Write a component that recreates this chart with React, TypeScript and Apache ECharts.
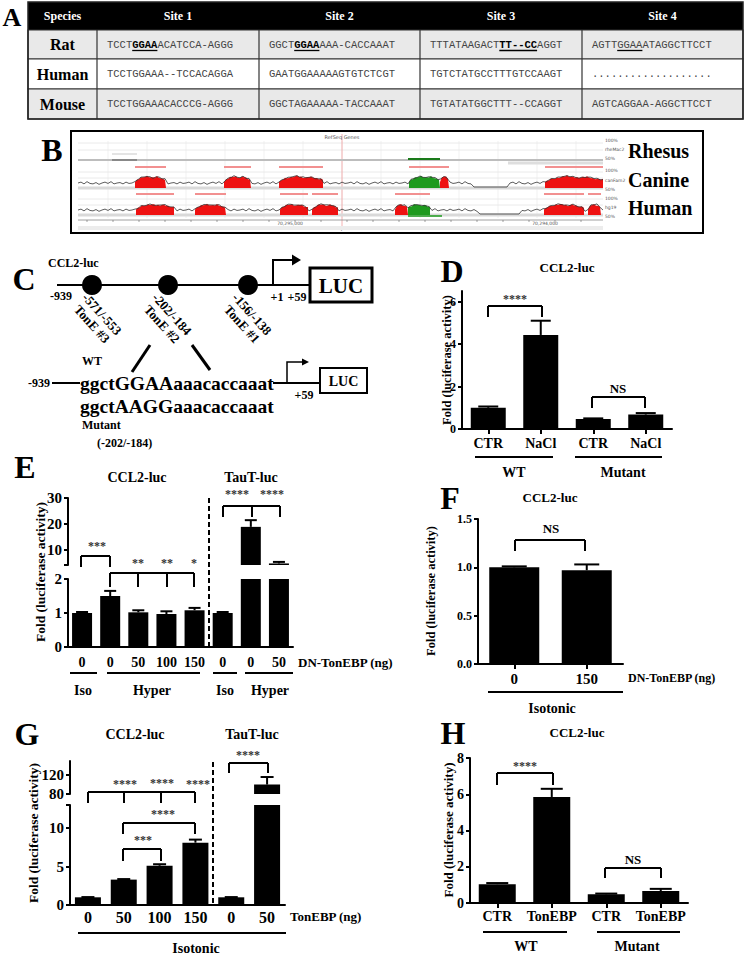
import React, { useEffect, useRef } from "react";
import * as echarts from "echarts";

const SERIF = '"Liberation Serif", "Times New Roman", serif';
const MONO = '"Liberation Mono", "Courier New", monospace';
const SANS = '"DejaVu Sans", "Liberation Sans", sans-serif';

// ---------- Panel A data ----------
const tableHeaders = ["Species", "Site 1", "Site 2", "Site 3", "Site 4"];
const speciesNames = ["Rat", "Human", "Mouse"];
const ratSequences = ["TCCTGGAAACATCCA-AGGG", "GGCTGGAAAAA-CACCAAAT", "TTTATAAGACTTT--CCAGGT", "AGTTGGAAATAGGCTTCCT"];
const humanSequences = ["TCCTGGAAA--TCCACAGGA", "GAATGGAAAAAGTGTCTCGT", "TGTCTATGCCTTTGTCCAAGT", "..................."];
const mouseSequences = ["TCCTGGAAACACCCG-AGGG", "GGCTAGAAAAA-TACCAAAT", "TGTATATGGCTTT--CCAGGT", "AGTCAGGAA-AGGCTTCCT"];
const ratMotifs: [number, number, boolean][] = [[4, 8, true], [4, 8, true], [11, 17, true], [4, 8, false]];

// ---------- Panel B labels ----------
const speciesTracks = ["Rhesus", "Canine", "Human"];
const trackDbNames = ["rheMac2", "canFam2", "hg19"];

// ---------- Panel D ----------
const dCategories = ["CTR", "NaCl", "CTR", "NaCl"];
const dValues = [1.0, 4.43, 0.47, 0.68];
const dErrTop = [1.06, 5.1, 0.5, 0.75];
const dTicks = [0, 2, 4, 6];

// ---------- Panel E ----------
const eCategories = ["0", "0", "50", "100", "150", "0", "0", "50"];
const eValues = [1.0, 1.5, 1.02, 0.97, 1.08, 1.0, 18.8, 4.6];
const eErrTop = [1.03, 1.65, 1.08, 1.05, 1.15, 1.03, 21.4, 5.2];
const eUpperTicks = [10, 20, 30];
const eLowerTicks = [0, 1, 2];

// ---------- Panel F ----------
const fCategories = ["0", "150"];
const fValues = [1.0, 0.97];
const fErrTop = [1.01, 1.03];
const fTicks = [0, 0.5, 1.0, 1.5];

// ---------- Panel G ----------
const gCategories = ["0", "50", "100", "150", "0", "50"];
const gValues = [1.0, 3.3, 5.1, 8.1, 1.0, 100];
const gErrTop = [1.03, 3.37, 5.3, 8.5, 1.03, 116];
const gUpperTicks = [80, 120];
const gLowerTicks = [0, 5, 10];

// ---------- Panel H ----------
const hCategories = ["CTR", "TonEBP", "CTR", "TonEBP"];
const hValues = [1.04, 5.85, 0.48, 0.66];
const hErrTop = [1.1, 6.3, 0.52, 0.78];
const hTicks = [0, 2, 4, 6, 8];

// ---------- helpers ----------
const txt = (x: number, y: number, text: string, size: number, o: any = {}) => ({
  type: "text",
  x,
  y,
  rotation: o.rot || 0,
  silent: true,
  style: {
    text,
    fontFamily: o.family || SERIF,
    fontWeight: o.weight || "bold",
    fontSize: size,
    fill: o.fill || "#000",
    align: o.align || "center",
    verticalAlign: o.va || "middle",
    rich: o.rich,
  },
});
const ln = (x1: number, y1: number, x2: number, y2: number, w = 2, color = "#000", dash?: number[]) => ({
  type: "line",
  silent: true,
  shape: { x1, y1, x2, y2 },
  style: { stroke: color, lineWidth: w, lineDash: dash },
});
const bracket = (xs: number[], yTop: number, yBot: number) => {
  const els: any[] = [ln(Math.min(...xs), yTop, Math.max(...xs), yTop)];
  xs.forEach((x) => els.push(ln(x, yTop, x, yBot)));
  return els;
};
const star = (x: number, y: number, s: string) => txt(x, y, s, 12, { fill: "#333" });

// ---------- Panel A graphic ----------
function panelA(): any[] {
  const els: any[] = [];
  const colX = [28, 97, 259, 420, 582, 743];
  const rowY = [2, 30, 59, 89, 119];
  els.push(txt(12, 17, "A", 26));
  els.push({ type: "rect", silent: true, shape: { x: colX[0], y: rowY[0], width: colX[5] - colX[0], height: rowY[1] - rowY[0] }, style: { fill: "#000" } });
  const fills = ["#e9e9e9", "#ffffff", "#e9e9e9"];
  for (let r = 0; r < 3; r++) {
    els.push({ type: "rect", silent: true, shape: { x: colX[0], y: rowY[r + 1], width: colX[5] - colX[0], height: rowY[r + 2] - rowY[r + 1] }, style: { fill: fills[r], stroke: "#333", lineWidth: 1.2 } });
  }
  for (let c = 1; c < 5; c++) els.push(ln(colX[c], rowY[1], colX[c], rowY[4], 1.2, "#333"));
  els.push({ type: "rect", silent: true, shape: { x: colX[0], y: rowY[0], width: colX[5] - colX[0], height: rowY[4] - rowY[0] }, style: { fill: "none", stroke: "#222", lineWidth: 1.5 } });
  tableHeaders.forEach((h, c) => els.push(txt((colX[c] + colX[c + 1]) / 2, (rowY[0] + rowY[1]) / 2, h, 12, { fill: "#fff" })));
  const seqRows = [ratSequences, humanSequences, mouseSequences];
  const fs = 10.5;
  const cw = fs * 0.6;
  speciesNames.forEach((name, r) => {
    const cy = (rowY[r + 1] + rowY[r + 2]) / 2;
    els.push(txt((colX[0] + colX[1]) / 2, cy, name, 16));
    seqRows[r].forEach((seq, c) => {
      const x0 = colX[c + 1] + 10;
      let rt = `{n|${seq}}`;
      if (r === 0) {
        const [s, e, b] = ratMotifs[c];
        rt = `{n|${seq.slice(0, s)}}{${b ? "b" : "n"}|${seq.slice(s, e)}}{n|${seq.slice(e)}}`;
        els.push(ln(x0 + s * cw, cy + 6, x0 + e * cw, cy + 6, 1.3, "#000"));
      }
      els.push(
        txt(x0, cy, rt, fs, {
          align: "left",
          family: MONO,
          weight: "normal",
          fill: "#444",
          rich: {
            n: { fontFamily: MONO, fontSize: fs, fill: "#444", fontWeight: "normal" },
            b: { fontFamily: MONO, fontSize: fs, fill: "#000", fontWeight: "bold" },
          },
        })
      );
    });
  });
  return els;
}

// ---------- Panel B graphic ----------
const wig = [0, -1, 1, -1.5, 0.5, 1, -0.5, 1.5, 0, -1, 0.5, -1.5, 1, 0, -0.5, 1, -1, 0.5];
const hump = [0.5, 0.75, 0.85, 0.95, 1, 0.9, 0.85, 0.95, 0.85, 0.75, 0.7];

function trackEls(yb: number, level: number, amp: number, red: number[][], green: number[][], flats: number[][], L: number, R: number) {
  const els: any[] = [];
  const blocks = [...red.map((b) => [b[0], b[1], 0]), ...green.map((b) => [b[0], b[1], 1])];
  const hAt = (b: number[], x: number) => {
    const t = (x - b[0]) / (b[1] - b[0]);
    const p = t * (hump.length - 1);
    const i = Math.min(hump.length - 2, Math.floor(p));
    const f = p - i;
    return hump[i] * (1 - f) + hump[i + 1] * f;
  };
  const yAt = (x: number, k: number) => {
    const b = blocks.find((bb) => x >= bb[0] && x <= bb[1]);
    if (b) return yb - amp * hAt(b, x) + wig[k % wig.length] * 0.5;
    if (flats.some((f) => x >= f[0] && x <= f[1])) return yb - 1;
    return level + wig[k % wig.length] * 0.9;
  };
  els.push(ln(L, yb, R, yb, 3, "#d9d9d9"));
  blocks.forEach((b) => {
    const pts: number[][] = [];
    let k = 0;
    for (let x = b[0]; x <= b[1]; x += 2) pts.push([x, yAt(x, k++)]);
    pts.push([b[1], yb], [b[0], yb]);
    els.push({ type: "polygon", silent: true, shape: { points: pts }, style: { fill: b[2] ? "#1e9a1e" : "#ee1111" } });
  });
  const line: number[][] = [];
  let k = 0;
  for (let x = L; x <= R; x += 3) line.push([x, yAt(x, k++)]);
  els.push({ type: "polyline", silent: true, shape: { points: line }, style: { stroke: "#333", lineWidth: 0.8, fill: "none" } });
  return els;
}

function panelB(): any[] {
  const els: any[] = [];
  const bx0 = 71, by0 = 131, bx1 = 703, by1 = 233;
  const L = 78, R = 603;
  els.push(txt(52, 150, "B", 32));
  els.push({ type: "rect", silent: true, shape: { x: bx0, y: by0, width: bx1 - bx0, height: by1 - by0 }, style: { fill: "#fff", stroke: "#000", lineWidth: 2 } });
  for (let x = L + 30; x < R; x += 39) els.push(ln(x, 141, x, 218, 0.8, "#ededed"));
  [143, 150, 172, 178, 199, 205].forEach((y) => els.push(ln(L, y, R, y, 0.8, "#e4e4e4")));
  els.push(ln(342, 134, 342, 230, 0.8, "#f2a0a0"));
  els.push(txt(342, 137, "RefSeq Genes", 5, { weight: "normal", family: SANS, fill: "#555" }));
  els.push(txt(342, 228, "RefSeq Genes", 5, { weight: "normal", family: SANS, fill: "#555" }));
  els.push(ln(L, 228, R, 228, 4, "#ececec"));
  // rhesus
  els.push(ln(L, 160, R, 160, 2, "#bdbdbd"));
  els.push(ln(112, 160, 137, 160, 1.5, "#777"));
  els.push(ln(112, 154, 137, 154, 0.8, "#bbb"));
  els.push(ln(508, 163, R, 163, 3, "#dedede"));
  els.push(ln(408, 159, 440, 159, 2, "#1a7a1a"));
  [[135, 166], [224, 251], [279, 323], [409, 449], [545, 603]].forEach((s) => els.push(ln(s[0], 167, s[1], 167, 2, "#f29090")));
  // canine
  els.push(...trackEls(188, 183, 12, [[135, 166], [224, 251], [279, 323], [440, 449], [545, 603]], [[409, 440]], [[473, 508]], L, R));
  [[136, 174], [195, 226], [280, 308], [312, 338], [395, 430], [544, 584], [588, 601]].forEach((s) => els.push(ln(s[0], 194, s[1], 194, 2, "#f29090")));
  // human
  els.push(...trackEls(215, 210, 11, [[136, 174], [195, 226], [280, 308], [312, 338], [395, 408], [544, 584], [588, 601]], [[408, 430]], [[478, 520]], L, R));
  els.push(ln(408, 216, 442, 216, 1.5, "#1a9a1a"));
  // axis
  els.push(ln(L, 220, R, 220, 0.8, "#888"));
  for (let x = L + 9; x < R; x += 26) els.push(ln(x, 220, x, 222, 0.6, "#666"));
  els.push(txt(290, 223, "70,295,000", 4.5, { weight: "normal", family: SANS, fill: "#555" }));
  els.push(txt(545, 223, "70,294,000", 4.5, { weight: "normal", family: SANS, fill: "#555" }));
  const ys = [[140, 149, 158], [170, 180, 189], [198, 207, 216]];
  ys.forEach((yy, i) => {
    els.push(txt(605, yy[0], "100%", 4.5, { weight: "normal", family: SANS, fill: "#555", align: "left" }));
    els.push(txt(605, yy[1], trackDbNames[i], 4.5, { weight: "normal", family: SANS, fill: "#555", align: "left" }));
    els.push(txt(605, yy[2], "50%", 4.5, { weight: "normal", family: SANS, fill: "#555", align: "left" }));
  });
  const ly = [151, 180, 208];
  speciesTracks.forEach((s, i) => els.push(txt(628, ly[i], s, 20, { align: "left" })));
  return els;
}

// ---------- Panel C graphic ----------
function panelC(): any[] {
  const els: any[] = [];
  els.push(txt(24, 279, "C", 32));
  els.push(txt(48, 263, "CCL2-luc", 12, { align: "left" }));
  els.push(ln(57, 285, 309, 285, 2));
  [92, 168, 248].forEach((x) => els.push({ type: "circle", silent: true, shape: { cx: x, cy: 285, r: 10 }, style: { fill: "#000" } }));
  els.push(txt(72, 296, "-939", 12, { align: "right" }));
  els.push({ type: "polyline", silent: true, shape: { points: [[273, 285], [273, 260], [293, 260]] }, style: { stroke: "#000", lineWidth: 2, fill: "none" } });
  els.push({ type: "polygon", silent: true, shape: { points: [[292, 254.5], [301, 260], [292, 265.5]] }, style: { fill: "#000" } });
  els.push(txt(277, 297, "+1", 12));
  els.push(txt(297, 297, "+59", 12));
  els.push({ type: "rect", silent: true, shape: { x: 310, y: 268, width: 62, height: 34 }, style: { fill: "#fff", stroke: "#000", lineWidth: 3 } });
  els.push(txt(341, 286, "LUC", 21));
  const rot = (-48 * Math.PI) / 180;
  const labs = [["-571/-553", "TonE #3", 102], ["-202/-184", "TonE #2", 172], ["-156/-138", "TonE #1", 252]];
  labs.forEach((l) => {
    const cx = l[2] as number;
    els.push(txt(cx, 314, l[0] as string, 13, { rot }));
    els.push(txt(cx - 10, 324, l[1] as string, 13, { rot }));
  });
  els.push(ln(150, 345, 132, 372, 3));
  els.push(ln(192, 345, 210, 370, 3));
  els.push(txt(82, 361, "WT", 12, { align: "left" }));
  els.push(txt(50, 383, "-939", 12, { align: "right" }));
  els.push(ln(52, 383, 80, 383, 2));
  els.push(txt(80, 383, "ggctGGAAaaacaccaaat", 19.5, { align: "left" }));
  els.push(txt(80, 406, "ggctAAGGaaacaccaaat", 19.5, { align: "left" }));
  els.push(ln(273, 383, 320, 383, 2));
  els.push({ type: "polyline", silent: true, shape: { points: [[287, 383], [287, 362], [303, 362]] }, style: { stroke: "#000", lineWidth: 1.5, fill: "none" } });
  els.push({ type: "polygon", silent: true, shape: { points: [[302, 358.5], [309, 362], [302, 365.5]] }, style: { fill: "#000" } });
  els.push({ type: "rect", silent: true, shape: { x: 320, y: 368, width: 47, height: 25 }, style: { fill: "#fff", stroke: "#000", lineWidth: 2 } });
  els.push(txt(343.5, 381, "LUC", 14));
  els.push(txt(304, 395, "+59", 12));
  els.push(txt(82, 425, "Mutant", 12, { align: "left" }));
  els.push(txt(97, 443, "(-202/-184)", 12, { align: "left" }));
  return els;
}

// ---------- chart panels annotations ----------
function annotations(): any[] {
  const els: any[] = [];
  const yTitle = "Fold (luciferase activity)";
  // D
  els.push(txt(452, 271, "D", 32));
  els.push(txt(567, 267, "CCL2-luc", 13));
  els.push(txt(447, 360, yTitle, 12.5, { rot: Math.PI / 2 }));
  els.push(...bracket([488, 542], 306, 317), star(515, 299, "****"));
  els.push(...bracket([592, 645], 397, 408), txt(618, 388, "NS", 13));
  els.push(ln(475, 457, 553, 457), ln(575, 457, 662, 457));
  els.push(txt(514, 472, "WT", 14), txt(623, 472, "Mutant", 14));
  // E
  els.push(txt(25, 467, "E", 32));
  els.push(txt(137, 477, "CCL2-luc", 14), txt(251, 477, "TauT-luc", 14));
  els.push(txt(40, 572, yTitle, 13.5, { rot: Math.PI / 2 }));
  els.push(ln(209, 498, 209, 647, 2, "#000", [5, 3]));
  els.push(...bracket([81, 110], 556, 567), star(97, 546, "***"));
  els.push(...bracket([110, 138, 167, 194], 573, 587));
  els.push(star(138, 563, "**"), star(167, 563, "**"), star(194, 563, "*"));
  els.push(...bracket([223, 252, 280], 506, 517));
  els.push(star(237, 494, "****"), star(272, 494, "****"));
  els.push(txt(298, 662, "DN-TonEBP (ng)", 13, { align: "left" }));
  els.push(ln(70, 673, 97, 673), ln(107, 673, 200, 673), ln(213, 673, 237, 673), ln(245, 673, 293, 673));
  els.push(txt(83, 690, "Iso", 14), txt(152, 690, "Hyper", 14), txt(225, 690, "Iso", 14), txt(270, 690, "Hyper", 14));
  // F
  els.push(txt(450, 498, "F", 32));
  els.push(txt(550, 497, "CCL2-luc", 13));
  els.push(txt(431, 591, yTitle, 12.5, { rot: Math.PI / 2 }));
  els.push(...bracket([515, 585], 540, 551), txt(551, 528, "NS", 13));
  els.push(txt(628, 678, "DN-TonEBP (ng)", 12, { align: "left" }));
  els.push(ln(488, 692, 623, 692));
  els.push(txt(552, 708, "Isotonic", 14));
  // G
  els.push(txt(27, 734, "G", 32));
  els.push(txt(135, 734, "CCL2-luc", 14), txt(252, 734, "TauT-luc", 14));
  els.push(txt(33, 833, yTitle, 13.5, { rot: Math.PI / 2 }));
  els.push(ln(213, 762, 213, 905, 2, "#000", [5, 3]));
  els.push(...bracket([88, 124, 161, 195], 792, 803));
  els.push(star(125, 784, "****"), star(162, 783, "****"), star(198, 784, "****"));
  els.push(...bracket([123, 195], 823, 834), star(163, 814, "****"));
  els.push(...bracket([123, 161], 849, 861), star(143, 840, "***"));
  els.push(...bracket([229, 268], 763, 773), star(248, 755, "****"));
  els.push(txt(290, 916, "TonEBP (ng)", 13, { align: "left" }));
  els.push(ln(78, 933, 286, 933));
  els.push(txt(196, 948, "Isotonic", 14));
  // H
  els.push(txt(453, 733, "H", 32));
  els.push(txt(577, 732, "CCL2-luc", 13));
  els.push(txt(448, 830, yTitle, 13, { rot: Math.PI / 2 }));
  els.push(...bracket([497, 553], 773, 785), star(525, 766, "****"));
  els.push(...bracket([605, 661], 868, 878), txt(633, 859, "NS", 13));
  els.push(ln(483, 932, 567, 932), ln(597, 932, 680, 932));
  els.push(txt(526, 946, "WT", 14), txt(637, 946, "Mutant", 14));
  return els;
}

// ---------- axes & series ----------
function xAx(gridIndex: number, data: string[], fontSize: number, margin: number, ticks: boolean, show = true) {
  return {
    type: "category",
    gridIndex,
    data,
    show,
    axisLine: { show: true, lineStyle: { color: "#000", width: 2 } },
    axisTick: { show: ticks, alignWithLabel: true, length: 5, lineStyle: { color: "#000", width: 2 } },
    axisLabel: { fontFamily: SERIF, fontWeight: "bold", fontSize, color: "#000", margin, interval: 0 },
    splitLine: { show: false },
  };
}
function yAx(gridIndex: number, min: number, max: number, tickVals: number[], labelVals: number[], fontSize: number, fmt?: (v: number) => string) {
  return {
    type: "value",
    gridIndex,
    min,
    max,
    splitLine: { show: false },
    axisLine: { show: true, lineStyle: { color: "#000", width: 2 } },
    axisTick: { show: true, length: 4, lineStyle: { color: "#000", width: 2 }, customValues: tickVals },
    axisLabel: { fontFamily: SERIF, fontWeight: "bold", fontSize, color: "#000", margin: 6, customValues: labelVals, formatter: fmt || ((v: number) => String(v)) },
  };
}
function barS(idx: number, values: number[], width: number) {
  return { type: "bar", xAxisIndex: idx, yAxisIndex: idx, data: values, barWidth: width, itemStyle: { color: "#000" }, silent: true, clip: true };
}
function errS(idx: number, values: number[], tops: number[], cap: number) {
  return {
    type: "custom",
    xAxisIndex: idx,
    yAxisIndex: idx,
    clip: true,
    silent: true,
    data: values.map((v, i) => [i, v, tops[i]]),
    encode: { x: 0, y: [1, 2] },
    renderItem: (_p: any, api: any) => {
      const i = api.value(0);
      const p1 = api.coord([i, api.value(1)]);
      const p2 = api.coord([i, api.value(2)]);
      return {
        type: "group",
        children: [
          { type: "line", shape: { x1: p1[0], y1: p1[1], x2: p2[0], y2: p2[1] }, style: { stroke: "#000", lineWidth: 2 } },
          { type: "line", shape: { x1: p2[0] - cap / 2, y1: p2[1], x2: p2[0] + cap / 2, y2: p2[1] }, style: { stroke: "#000", lineWidth: 2 } },
        ],
      };
    },
  };
}

function buildOption(): any {
  const grids = [
    { left: 462, top: 291, width: 210, height: 138 }, // D
    { left: 68, top: 498, width: 225, height: 67 }, // E upper
    { left: 68, top: 579, width: 225, height: 68 }, // E lower
    { left: 478, top: 519, width: 145, height: 145 }, // F
    { left: 70, top: 761, width: 215, height: 33 }, // G upper
    { left: 70, top: 805, width: 215, height: 100 }, // G lower
    { left: 470, top: 758, width: 218, height: 145 }, // H
  ];
  return {
    animation: false,
    backgroundColor: "#fff",
    grid: grids.map((g) => ({ ...g, containLabel: false })),
    xAxis: [
      xAx(0, dCategories, 14, 7, true),
      xAx(1, eCategories, 14, 8, false, false),
      xAx(2, eCategories, 14, 8, false),
      xAx(3, fCategories, 15, 7, true),
      xAx(4, gCategories, 16, 4, false, false),
      xAx(5, gCategories, 16, 4, false),
      xAx(6, hCategories, 14, 6, true),
    ],
    yAxis: [
      yAx(0, 0, 6.5, dTicks, dTicks, 12),
      yAx(1, 4, 30, [4, ...eUpperTicks], eUpperTicks, 15),
      yAx(2, 0, 2, eLowerTicks, eLowerTicks, 15),
      yAx(3, 0, 1.5, fTicks, fTicks, 12, (v: number) => v.toFixed(1)),
      yAx(4, 80, 150, gUpperTicks, gUpperTicks, 15),
      yAx(5, 0, 13, [...gLowerTicks, 13], gLowerTicks, 15),
      yAx(6, 0, 8, hTicks, hTicks, 14),
    ],
    series: [
      barS(0, dValues, 35), errS(0, dValues, dErrTop, 20),
      barS(1, eValues, 20), errS(1, eValues, eErrTop, 12),
      barS(2, eValues, 20), errS(2, eValues, eErrTop, 12),
      barS(3, fValues, 50), errS(3, fValues, fErrTop, 25),
      barS(4, gValues, 26), errS(4, gValues, gErrTop, 13),
      barS(5, gValues, 26), errS(5, gValues, gErrTop, 13),
      barS(6, hValues, 37), errS(6, hValues, hErrTop, 22),
    ],
    graphic: { elements: [...panelA(), ...panelB(), ...panelC(), ...annotations()] },
  };
}

export default function App() {
  const ref = useRef<HTMLDivElement>(null);
  useEffect(() => {
    if (!ref.current) return;
    const chart = echarts.init(ref.current, null, { renderer: "svg" });
    chart.setOption(buildOption());
    return () => chart.dispose();
  }, []);
  return <div ref={ref} style={{ position: "absolute", left: 0, top: 0, width: 745, height: 954, background: "#fff" }} />;
}
